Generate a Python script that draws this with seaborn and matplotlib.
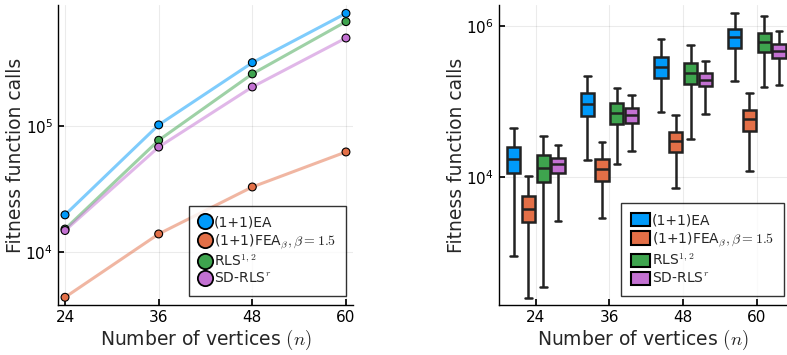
import numpy as np
import pandas as pd
import matplotlib
matplotlib.use("Agg")
import matplotlib.pyplot as plt
import seaborn as sns
from matplotlib.patches import Patch
from matplotlib.lines import Line2D

sns.set_theme(style="white")
plt.rcParams['font.family'] = ['DejaVu Sans']
plt.rcParams['mathtext.fontset'] = 'cm'

n_values = [24, 36, 48, 60]
algorithms = ["(1+1)EA", r"(1+1)FEA$_{\beta}, \beta = 1.5$", r"RLS$^{1,2}$", r"SD-RLS$^{r}$"]
colors = ["#009AFA", "#E36F47", "#3EA44E", "#C371D2"]

# Left panel: mean fitness function calls
mean_ea = [19700, 102000, 318000, 783000]
mean_fea = [4370, 13900, 32800, 62200]
mean_rls = [15200, 77000, 259000, 673000]
mean_sdrls = [14800, 68000, 204000, 499000]

# Right panel: box statistics [whisker low, q1, median, q3, whisker high]
box_ea = [[904, 11300, 17000, 24800, 43900],
          [16500, 64600, 93100, 128000, 217000],
          [72100, 204000, 282000, 387000, 665000],
          [188000, 515000, 708000, 904000, 1490000]]
box_fea = [[250, 2550, 3800, 5650, 10400],
           [2860, 8750, 12800, 17000, 28800],
           [7210, 21200, 29700, 39500, 65900],
           [12000, 40400, 57700, 76700, 128000]]
box_rls = [[350, 8490, 13300, 19400, 34700],
           [14900, 50000, 70000, 95100, 153000],
           [31300, 172000, 236000, 326000, 553000],
           [157000, 452000, 607000, 807000, 1360000]]
box_sdrls = [[2580, 11400, 14900, 17900, 26600],
             [21700, 51500, 65200, 80700, 122000],
             [67900, 160000, 194000, 236000, 347000],
             [163000, 376000, 466000, 577000, 867000]]

means = [mean_ea, mean_fea, mean_rls, mean_sdrls]
boxes = [box_ea, box_fea, box_rls, box_sdrls]

df_mean = pd.DataFrame([(n, a, m[i]) for a, m in zip(algorithms, means)
                        for i, n in enumerate(n_values)], columns=["n", "alg", "calls"])
df_box = pd.DataFrame([(n, a, v) for a, b in zip(algorithms, boxes)
                       for i, n in enumerate(n_values) for v in b[i]],
                      columns=["n", "alg", "calls"])

fig = plt.figure(figsize=(7.87, 3.55), dpi=100)
W, H = 787, 355
ax1 = fig.add_axes([58 / W, 1 - 305 / H, (353 - 58) / W, 300 / H])
ax2 = fig.add_axes([499 / W, 1 - 305 / H, (787 - 499) / W, 300 / H])

palette = dict(zip(algorithms, colors))

# Left
sns.lineplot(data=df_mean, x="n", y="calls", hue="alg", palette=palette, ax=ax1,
             linewidth=2.2, alpha=0.5, legend=False)
sns.scatterplot(data=df_mean, x="n", y="calls", hue="alg", palette=palette, ax=ax1,
                s=32, edgecolor="black", linewidth=0.8, zorder=5, legend=False)
ax1.set_yscale("log")
ax1.set_ylim(3795, 912000)
ax1.set_xlim(23.1, 60.9)
ax1.set_xticks(n_values)
ax1.set_yticks([1e4, 1e5])
ax1.yaxis.set_minor_locator(matplotlib.ticker.NullLocator())
ax1.set_yticklabels([r"$\mathregular{10^4}$", r"$\mathregular{10^5}$"])

handles1 = [Line2D([0], [0], marker="o", linestyle="-", color=c, alpha=1,
                   markerfacecolor=c, markeredgecolor="black", markersize=11,
                   markeredgewidth=1.3, linewidth=0) for c in colors]
leg1 = ax1.legend(handles1, algorithms, loc="lower right", bbox_to_anchor=(0.975, 0.03),
                  fontsize=10, frameon=True, fancybox=False, edgecolor="black",
                  handlelength=0.9, handletextpad=0.15, labelspacing=0.2,
                  borderpad=0.7, borderaxespad=0)
leg1.get_frame().set_linewidth(1.0)

# Right
sns.boxplot(data=df_box, x="n", y="calls", hue="alg", palette=palette, ax=ax2,
            log_scale=True, whis=(0, 100), showfliers=False, gap=0.1,
            saturation=1, linewidth=1.8, linecolor="#222222", legend=False)
ax2.set_ylim(200, 1.9e6)
ax2.set_xlim(-0.5, 3.41)
ax2.set_yticks([1e4, 1e6])
ax2.yaxis.set_minor_locator(matplotlib.ticker.NullLocator())
ax2.set_yticklabels([r"$\mathregular{10^4}$", r"$\mathregular{10^6}$"])
ax2.set_xticks(range(4))
ax2.set_xticklabels([str(n) for n in n_values])

handles2 = [Patch(facecolor=c, edgecolor="black", linewidth=1.5) for c in colors]
leg2 = ax2.legend(handles2, algorithms, loc="lower right", bbox_to_anchor=(0.99, 0.03),
                  fontsize=10, frameon=True, fancybox=False, edgecolor="black",
                  handlelength=1.4, handleheight=1.1, handletextpad=0.15,
                  labelspacing=0.25, borderpad=0.7, borderaxespad=0)
leg2.get_frame().set_linewidth(1.0)

for ax in (ax1, ax2):
    ax.grid(True, color="black", alpha=0.08, linewidth=0.8)
    for s in ("top", "right"):
        ax.spines[s].set_visible(False)
    for s in ("left", "bottom"):
        ax.spines[s].set_color("black")
        ax.spines[s].set_linewidth(1.0)
    ax.tick_params(axis="both", which="major", direction="in", length=4,
                   labelsize=11, colors="black", left=True, bottom=True)
    ax.set_xlabel(r"Number of vertices $(n)$", fontsize=13.5, labelpad=2)
    ax.set_ylabel("Fitness function calls", fontsize=13.5, labelpad=0)

fig.savefig("out.png", dpi=100)
